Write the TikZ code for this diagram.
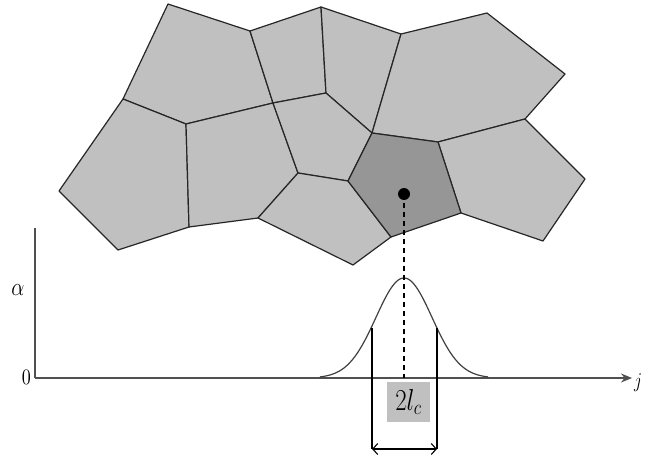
\documentclass[tikz,border=0pt]{standalone}
\usepackage{graphicx}
\usetikzlibrary{arrows.meta}
\definecolor{cellgray}{RGB}{192,192,192}
\definecolor{darkcell}{RGB}{150,150,150}
\definecolor{axisgray}{RGB}{80,80,80}
\tikzset{
  cell/.style={fill=cellgray, draw=black!85, line width=1.2pt, line join=round},
  hotcell/.style={fill=darkcell, draw=black!85, line width=1.2pt, line join=round},
  axisline/.style={draw=axisgray, line width=1.6pt},
  curveline/.style={draw=black!75, line width=1.2pt},
  guide/.style={draw=black, line width=1.1pt},
  lbl/.style={inner sep=0pt},
}
\newcommand{\tallbox}[2]{{\fontsize{#1}{#1}\selectfont\scalebox{1}[1.22]{#2}}}
\begin{document}
\begin{tikzpicture}[x=1pt,y=-1pt]
\useasboundingbox (0,0) rectangle (645,457);
% vertices
\coordinate (A) at (168,4);
\coordinate (B) at (250,31);
\coordinate (C) at (321,7);
\coordinate (D) at (401,34);
\coordinate (E) at (487,13);
\coordinate (F) at (565,74);
\coordinate (G) at (525,119);
\coordinate (H) at (585,179);
\coordinate (I) at (543,241);
\coordinate (J) at (461,213);
\coordinate (K) at (438,142);
\coordinate (L) at (372,133);
\coordinate (M) at (348,181);
\coordinate (N) at (391,237);
\coordinate (O) at (353,265);
\coordinate (P) at (258,218);
\coordinate (Q) at (189,227);
\coordinate (R) at (118,250);
\coordinate (S) at (59,191);
\coordinate (T) at (123,99);
\coordinate (U) at (186,124);
\coordinate (V) at (273,103);
\coordinate (W) at (326,93);
\coordinate (X) at (298,173);
% cells
\path[cell] (A) -- (B) -- (V) -- (U) -- (T) -- cycle;
\path[cell] (B) -- (C) -- (W) -- (V) -- cycle;
\path[cell] (C) -- (D) -- (L) -- (W) -- cycle;
\path[cell] (D) -- (E) -- (F) -- (G) -- (K) -- (L) -- cycle;
\path[cell] (T) -- (U) -- (Q) -- (R) -- (S) -- cycle;
\path[cell] (U) -- (V) -- (X) -- (P) -- (Q) -- cycle;
\path[cell] (V) -- (W) -- (L) -- (M) -- (X) -- cycle;
\path[cell] (K) -- (G) -- (H) -- (I) -- (J) -- cycle;
\path[cell] (X) -- (M) -- (N) -- (O) -- (P) -- cycle;
\path[hotcell] (L) -- (K) -- (J) -- (N) -- (M) -- cycle;
% centre point
\coordinate (dot) at (404,194);
\fill (dot) circle (6);
% axes
\coordinate (orig) at (35,378);
\coordinate (ytop) at (35,228);
\coordinate (xend) at (632,378);
\draw[axisline] (ytop) -- (orig);
\draw[axisline, -{Stealth[length=11pt,width=9pt]}] (orig) -- (xend);
\node[lbl, anchor=east] (zero) at (31,377) {\scalebox{1.8}[2.2]{0}};
\node[lbl] (alpha) at (18,290) {\tallbox{22}{$\alpha$}};
\node[lbl, anchor=west] (jlab) at (634,383) {\tallbox{18}{$j$}};
% bell curve
\draw[curveline] plot[domain=-84:84, samples=120, smooth] ({404+\x}, {378-100*exp(-(\x*\x)/(2*28*28))});
% dashed centre line
\coordinate (foot) at (404,378);
\draw[black, line width=1.1pt, dash pattern=on 5pt off 4pt] (dot) -- (foot);
% width markers
\coordinate (wl) at (372,328);
\coordinate (wr) at (437,328);
\coordinate (wlb) at (372,449);
\coordinate (wrb) at (437,449);
\draw[guide] (wl) -- (wlb);
\draw[guide] (wr) -- (wrb);
\draw[guide, {Straight Barb[length=5pt,width=11pt]}-{Straight Barb[length=5pt,width=11pt]}] (wlb) -- (wrb);
% label box
\node[fill=cellgray, minimum width=43, minimum height=40, inner sep=0pt] (width) at (408.5,402) {\tallbox{24}{$2l_c$}};
\end{tikzpicture}
\end{document}
